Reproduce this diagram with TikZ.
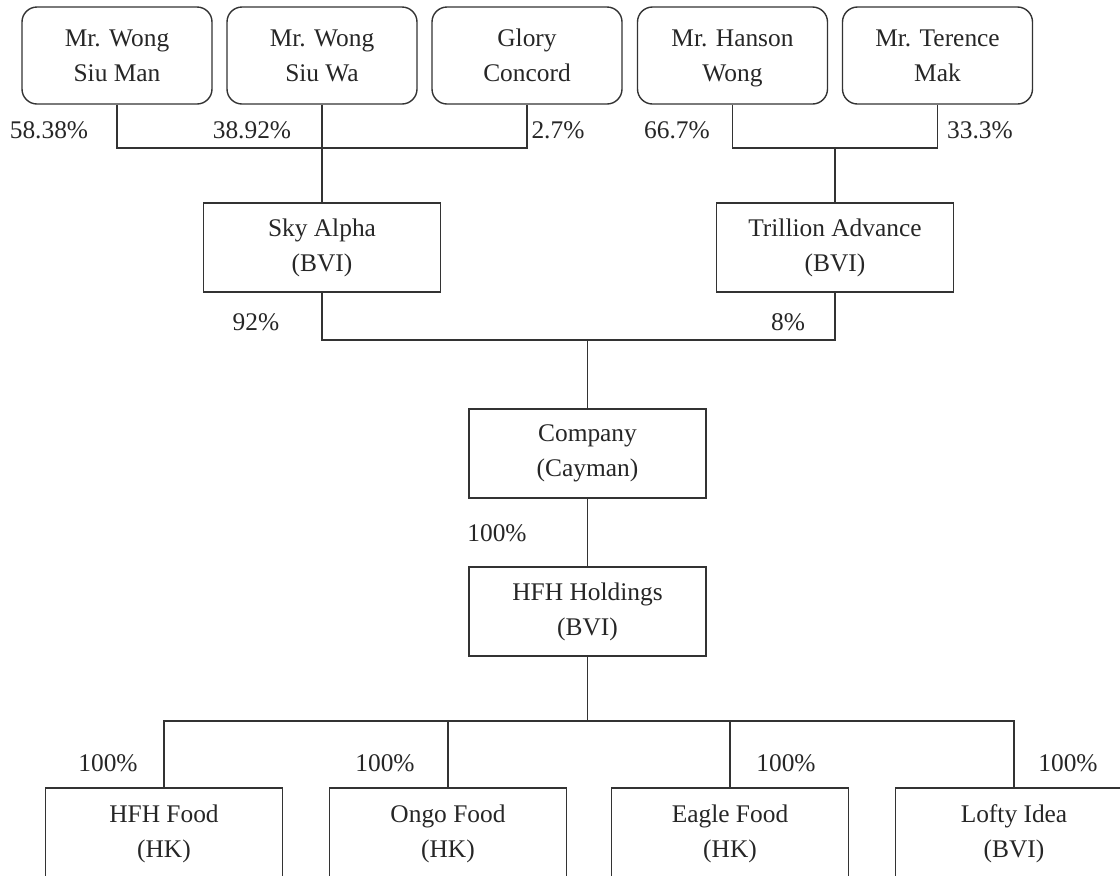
\documentclass[tikz,border=0pt]{standalone}
\usepackage{fontspec}
\setmainfont{Liberation Serif}
\usepackage{tikz}
\definecolor{inkgray}{HTML}{333333}
\tikzstyle{holder}=[rectangle, rounded corners=7.5pt, draw=inkgray, line width=0.7pt,
  minimum width=95pt, minimum height=48.5pt, align=center, inner sep=0pt]
\tikzstyle{entity}=[rectangle, sharp corners, draw=inkgray, line width=0.7pt,
  minimum width=118.5pt, minimum height=44.5pt, align=center, inner sep=0pt]
\tikzstyle{share}=[inner sep=0pt]
\tikzstyle{link}=[draw=inkgray, line width=0.7pt]

\begin{document}
\begin{tikzpicture}[x=0.5pt, y=-0.5pt,
  every node/.style={font=\fontsize{12.7}{17.5}\selectfont, text=black!85}]

\path[use as bounding box, clip] (0,0) rectangle (1120,875);

% shareholders
\node[holder] (wsm) at (117,55.5) {Mr. Wong\\Siu Man};
\node[holder] (wsw) at (322,55.5) {Mr. Wong\\Siu Wa};
\node[holder] (gc)  at (527,55.5) {Glory\\Concord};
\node[holder] (hw)  at (732.5,55.5) {Mr. Hanson\\\smash{Wong}};
\node[holder] (tm)  at (937.5,55.5) {Mr. Terence\\Mak};

% holding vehicles
\node[entity] (sky) at (322,247.5) {Sky Alpha\\(BVI)};
\node[entity] (ta)  at (835,247.5) {Trillion Advance\\(BVI)};

\node[entity] (co)  at (587.5,453.5) {Company\\(Cayman)};
\node[entity] (hfh) at (587.5,611.5) {HFH Holdings\\(BVI)};

% subsidiaries
\node[entity, minimum height=46pt] (food)  at (164,834) {HFH Food\\(HK)};
\node[entity, minimum height=46pt] (ongo)  at (448,834) {Ongo Food\\(HK)};
\node[entity, minimum height=46pt] (eagle) at (730,834) {Eagle Food\\(HK)};
\node[entity, minimum height=46pt] (lofty) at (1014,834) {Lofty Idea\\(BVI)};

\coordinate (skyjoin) at (322,148);
\coordinate (tajoin) at (835,148);
\coordinate (cojoin) at (587.5,340);
\coordinate (subjoin) at (587.5,721);

\draw[link] (wsm.south) |- (skyjoin) -| (gc.south);
\draw[link] (wsw.south) -- (sky.north);
\draw[link] (hw.south) |- (tajoin) -| (tm.south);
\draw[link] (tajoin) -- (ta.north);

\draw[link] (sky.south) |- (cojoin) -| (ta.south);
\draw[link] (cojoin) -- (co.north);
\draw[link] (co.south) -- (hfh.north);

\draw[link] (hfh.south) -- (subjoin);
\draw[link] (food.north) |- (subjoin) -| (lofty.north);
\draw[link] (ongo.north) -- (ongo.north |- subjoin);
\draw[link] (eagle.north) -- (eagle.north |- subjoin);

% percentages
\node[share] (p1) at (49,130) {58.38\%};
\node[share] (p2) at (252,130) {38.92\%};
\node[share] (p3) at (558,130) {2.7\%};
\node[share] (p4) at (677,130) {66.7\%};
\node[share] (p5) at (980,130) {33.3\%};
\node[share] (p6) at (256,322) {92\%};
\node[share] (p7) at (788,322) {8\%};
\node[share] (p8) at (497,533) {100\%};
\node[share] (p9) at (108,763) {100\%};
\node[share] (p10) at (385,763) {100\%};
\node[share] (p11) at (786,763) {100\%};
\node[share] (p12) at (1068,763) {100\%};

\end{tikzpicture}
\end{document}
